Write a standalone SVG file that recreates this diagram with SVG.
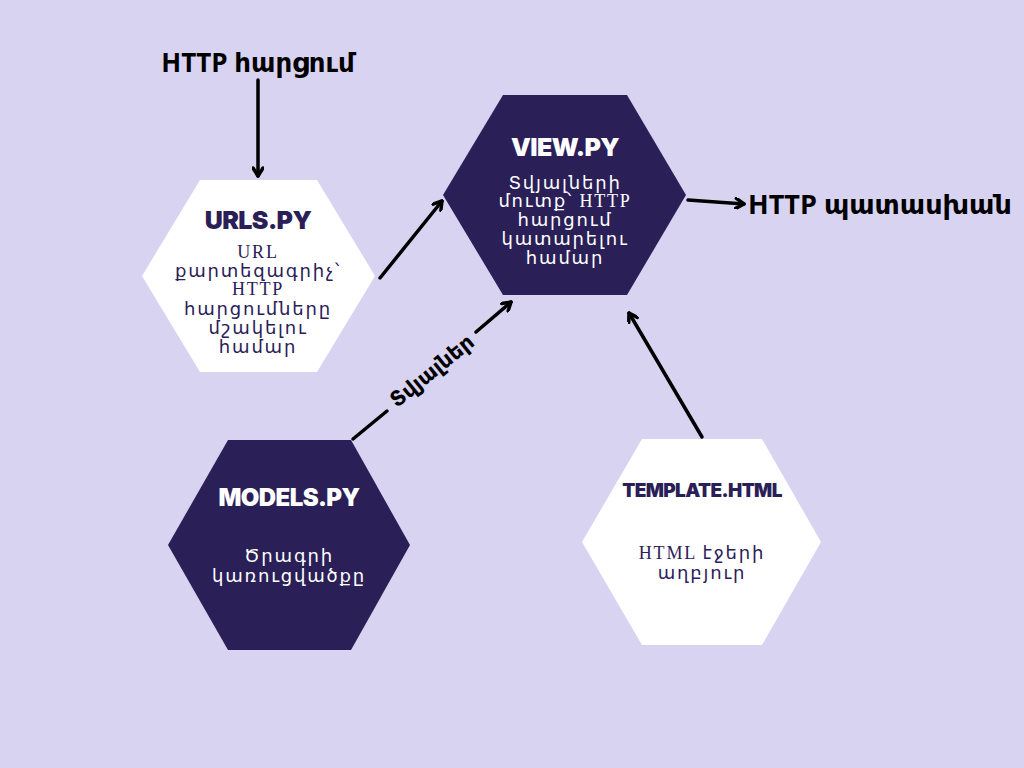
<svg xmlns="http://www.w3.org/2000/svg" width="1024" height="768" viewBox="0 0 1024 768">
<style>
.bg{fill:#d8d3f0}
.hw{fill:#ffffff}
.hd{fill:#2a2057}
.title{font-family:Inter,"DejaVu Sans",sans-serif;font-weight:900;text-anchor:middle;letter-spacing:-0.6px}
.body{font-family:"Liberation Serif","DejaVu Sans",serif;font-size:18px;text-anchor:middle;letter-spacing:1.8px}
.dk{fill:#2a2057}
.lt{fill:#ffffff}
.lbl{font-family:"Open Sans","DejaVu Sans",sans-serif;font-weight:700;fill:#000}
.conn{stroke:#000;stroke-width:3.5;fill:none;stroke-linecap:round}
.ah{stroke:#000;stroke-width:3.5;fill:none;stroke-linecap:round;stroke-linejoin:round}
</style>
<defs>
<marker id="arr" viewBox="0 0 12 12" refX="10" refY="6" markerWidth="12" markerHeight="12" markerUnits="userSpaceOnUse" orient="auto">
<path d="M2,1 L10,6 L2,11" class="ah" stroke-width="2.5"/>
</marker>
</defs>
<rect class="bg" width="1024" height="768"/>

<g id="urls">
<polygon class="hw" points="200,180 317,180 375,276 317,372 200,372 142,276"/>
<text class="title dk" x="258" y="229" font-size="25">URLS.PY</text>
<text class="body dk" x="258" y="258">URL</text>
<text class="body dk" x="258" y="277">քարտեզագրիչ՝</text>
<text class="body dk" x="258" y="295">HTTP</text>
<text class="body dk" x="258" y="315">հարցումները</text>
<text class="body dk" x="258" y="334">մշակելու</text>
<text class="body dk" x="258" y="353">համար</text>
</g>

<g id="view">
<polygon class="hd" points="503,95 627,95 686,195 627,295 503,295 443,195"/>
<text class="title lt" x="565" y="156" font-size="25">VIEW.PY</text>
<text class="body lt" x="565" y="189">Տվյալների</text>
<text class="body lt" x="565" y="207">մուտք՝ HTTP</text>
<text class="body lt" x="565" y="226">հարցում</text>
<text class="body lt" x="565" y="245">կատարելու</text>
<text class="body lt" x="565" y="264">համար</text>
</g>

<g id="models">
<polygon class="hd" points="228,440 351,440 410,545 351,650 228,650 168,545"/>
<text class="title lt" x="289" y="506" font-size="24">MODELS.PY</text>
<text class="body lt" x="289" y="562">Ծրագրի</text>
<text class="body lt" x="289" y="582">կառուցվածքը</text>
</g>

<g id="template">
<polygon class="hw" points="642,439 762,439 821,542 762,645 642,645 582,542"/>
<text class="title dk" x="702" y="497" font-size="19">TEMPLATE.HTML</text>
<text class="body dk" x="702" y="559">HTML էջերի</text>
<text class="body dk" x="702" y="579">աղբյուր</text>
</g>

<g id="labels">
<text class="lbl" x="258" y="72" text-anchor="middle" font-size="26">HTTP հարցում</text>
<text class="lbl" x="748" y="214" font-size="27">HTTP պատասխան</text>
</g>

<g id="connectors">
<line class="conn" x1="258" y1="80" x2="258" y2="176" marker-end="url(#arr)"/>
<line class="conn" x1="380" y1="278" x2="442" y2="201" marker-end="url(#arr)"/>
<line class="conn" x1="688" y1="200" x2="744" y2="204" marker-end="url(#arr)"/>
<line class="conn" x1="353" y1="439" x2="387" y2="411"/>
<line class="conn" x1="476" y1="332" x2="511" y2="302" marker-end="url(#arr)"/>
<line class="conn" x1="702" y1="437" x2="629" y2="313" marker-end="url(#arr)"/>
<text class="lbl" transform="translate(432,371) rotate(-39)" text-anchor="middle" dy="7" font-size="21">Տվյալներ</text>
</g>
</svg>
